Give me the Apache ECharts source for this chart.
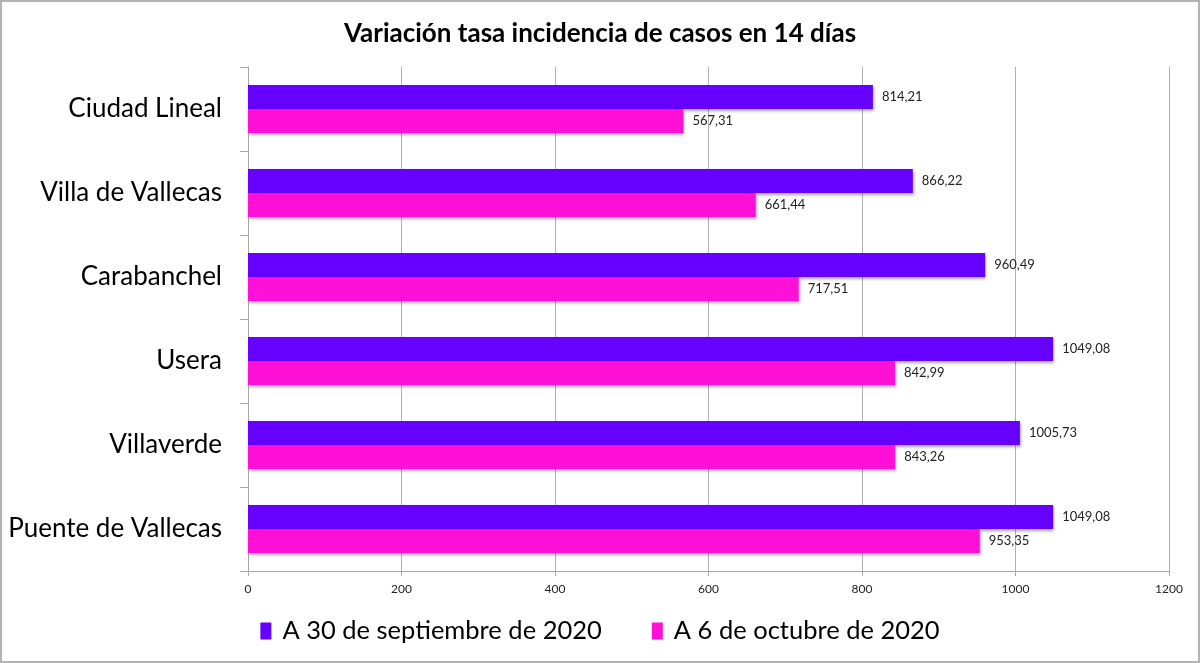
<!DOCTYPE html>
<html>
<head>
<meta charset="utf-8">
<script src="https://cdn.jsdelivr.net/npm/echarts@6/dist/echarts.min.js"></script>
<style>
html,body{margin:0;padding:0;background:#fff;}
#chart{width:1200px;height:663px;}
</style>
</head>
<body>
<div id="chart"></div>
<script>
const categories = ["Ciudad Lineal", "Villa de Vallecas", "Carabanchel", "Usera", "Villaverde", "Puente de Vallecas"];
const seriesNames = ["A 30 de septiembre de 2020", "A 6 de octubre de 2020"];
const sept30 = [814.21, 866.22, 960.49, 1049.08, 1005.73, 1049.08];
const oct6 = [567.31, 661.44, 717.51, 842.99, 843.26, 953.35];
const xTicks = [0, 200, 400, 600, 800, 1000, 1200];
const titleText = "Variación tasa incidencia de casos en 14 días";

const fontFam = 'Lato, "Open Sans", sans-serif';
const fmt = v => v.toFixed(2).replace('.', ',');
const barShadow = {shadowColor: 'rgba(0,0,0,0.35)', shadowBlur: 3, shadowOffsetX: 1, shadowOffsetY: 2};

const chart = echarts.init(document.getElementById('chart'), null, {renderer: 'canvas'});
chart.setOption({
  animation: false,
  backgroundColor: '#fff',
  title: {
    text: titleText, left: 'center', top: 16,
    textStyle: {fontFamily: fontFam, fontWeight: 'bold', fontSize: 26, color: '#000'}
  },
  graphic: [{
    type: 'rect', shape: {x: 1, y: 1, width: 1198, height: 661},
    style: {fill: 'none', stroke: '#b3b3b3', lineWidth: 2}, silent: true, z: 100
  }],
  legend: {
    bottom: 14, left: 'center', itemGap: 50, itemWidth: 11, itemHeight: 17, icon: 'rect',
    textStyle: {fontFamily: fontFam, fontSize: 25.5, color: '#000', padding: [0, 0, 0, 6]},
    data: seriesNames
  },
  grid: {left: 248, right: 31, top: 67, bottom: 92, containLabel: false},
  xAxis: {
    type: 'value', min: xTicks[0], max: xTicks[xTicks.length - 1], interval: 200,
    axisLine: {show: true, lineStyle: {color: '#a6a6a6', width: 1}},
    axisTick: {show: true, length: 5, lineStyle: {color: '#a6a6a6'}},
    axisLabel: {fontFamily: fontFam, fontSize: 12, color: '#222', margin: 12, formatter: v => String(v)},
    splitLine: {show: true, lineStyle: {color: '#b0b0b0', width: 1}}
  },
  yAxis: {
    type: 'category', data: categories, inverse: true,
    axisLine: {show: true, lineStyle: {color: '#a6a6a6', width: 1}},
    axisTick: {show: true, length: 8, inside: false, lineStyle: {color: '#a6a6a6'}},
    axisLabel: {fontFamily: fontFam, fontSize: 26, color: '#000', margin: 26}
  },
  series: [
    {
      name: seriesNames[0], type: 'bar', data: sept30, barGap: '0%', barCategoryGap: '43%',
      itemStyle: Object.assign({color: '#6600ff'}, barShadow),
      label: {show: true, position: 'right', distance: 9, fontFamily: fontFam, fontSize: 13, color: '#222', formatter: p => fmt(p.value)}
    },
    {
      name: seriesNames[1], type: 'bar', data: oct6, barGap: '0%', barCategoryGap: '43%',
      itemStyle: Object.assign({color: '#ff10d6'}, barShadow),
      label: {show: true, position: 'right', distance: 9, fontFamily: fontFam, fontSize: 13, color: '#222', formatter: p => fmt(p.value)}
    }
  ]
});
</script>
</body>
</html>
